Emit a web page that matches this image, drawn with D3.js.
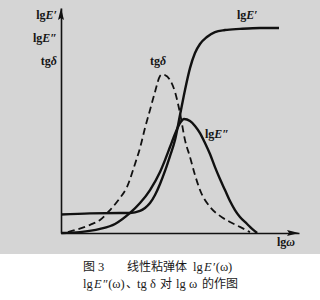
<!DOCTYPE html>
<html>
<head>
<meta charset="utf-8">
<script src="https://cdn.jsdelivr.net/npm/d3@7"></script>
<style>
  body { margin: 0; background: #fff; }
  svg { display: block; }
  .lab { font-family: "Liberation Serif", "DejaVu Serif", serif; font-size: 12px; font-weight: bold; fill: #151515; }
  .cap { font-family: "Noto Sans CJK SC", sans-serif; font-size: 12px; fill: #1a1a1a; }
  .capl { font-family: "Liberation Serif", serif; font-size: 12.5px; fill: #1a1a1a; }
</style>
</head>
<body>
<div id="chart"></div>
<script>
// curves in arbitrary units: x = lg omega (0..100), y = 0..100
var storageX = [0, 12.2, 24.8, 29.0, 33.2, 35.3, 37.4, 39.5, 41.6, 43.7, 45.8, 47.9, 50.0, 52.1, 54.2, 56.3, 58.4, 61.3, 64.7, 68.9, 75.2, 83.6, 91.6];
var storageY = [8.2, 8.7, 8.9, 8.9, 9.8, 11.1, 13.3, 16.9, 21.8, 27.6, 34.2, 41.3, 52.4, 63.6, 73.3, 80.0, 84.0, 87.1, 89.3, 90.2, 90.7, 91.1, 91.1];

var lossX = [0, 8.0, 16.4, 22.7, 29.0, 33.2, 37.4, 41.6, 43.7, 45.8, 47.9, 50.0, 51.7, 54.2, 56.3, 58.4, 60.5, 62.6, 64.7, 66.8, 68.9, 71.0, 73.1, 75.2, 78.2, 80.3, 82.4];
var lossY = [0, 0.4, 1.8, 4.0, 8.9, 13.3, 19.1, 27.1, 32.4, 38.2, 44.0, 48.9, 50.7, 49.8, 47.6, 44.4, 40.0, 35.1, 29.3, 24.0, 19.1, 14.2, 10.2, 7.1, 4.0, 1.8, 0];

var tanX = [2.9, 5.9, 12.2, 16.4, 20.6, 24.8, 27.7, 31.1, 33.2, 35.3, 37.4, 39.5, 41.6, 42.4, 43.7, 45.8, 47.9, 50.0, 52.1, 54.2, 56.3, 58.4, 62.6, 66.8, 71.0, 75.2, 79.4];
var tanY = [0.4, 1.3, 3.6, 5.8, 10.2, 15.6, 20.4, 30.7, 37.8, 46.7, 54.7, 62.7, 69.8, 70.4, 70.2, 68.0, 62.7, 53.3, 41.3, 33.8, 25.8, 19.1, 11.6, 7.6, 4.9, 2.7, 0.4];

var W = 320, H = 300;
var svg = d3.select("#chart").append("svg").attr("width", W).attr("height", H);

// grey paper area
svg.append("rect").attr("x", 0).attr("y", 0).attr("width", W).attr("height", 254).attr("fill", "#d5d5d5");

var x = d3.scaleLinear().domain([0, 100]).range([61, 299]);
var y = d3.scaleLinear().domain([0, 100]).range([233, 8]);

// axes (no ticks)
svg.append("g").attr("transform", "translate(0," + y(0) + ")")
  .call(d3.axisBottom(x).ticks(0).tickSizeOuter(0))
  .call(g => g.select(".domain").attr("stroke", "#111").attr("stroke-width", 1.6));
svg.append("g").attr("transform", "translate(" + x(0) + ",0)")
  .call(d3.axisLeft(y).ticks(0).tickSizeOuter(0))
  .call(g => g.select(".domain").attr("stroke", "#111").attr("stroke-width", 1.6));

// arrow heads
svg.append("path")
  .attr("d", "M" + x(100) + "," + y(0) + "l-12,-3l2,3l-2,3z")
  .attr("fill", "#111");
svg.append("path")
  .attr("d", "M" + x(0) + "," + y(100) + "l-3,12l3,-2l3,2z")
  .attr("fill", "#111");

function pts(xs, ys) { return xs.map((v, i) => [v, ys[i]]); }
var line = d3.line().x(d => x(d[0])).y(d => y(d[1])).curve(d3.curveMonotoneX);

svg.append("path").datum(pts(tanX, tanY)).attr("d", line)
  .attr("fill", "none").attr("stroke", "#111").attr("stroke-width", 1.8)
  .attr("stroke-dasharray", "7,4");
svg.append("path").datum(pts(lossX, lossY)).attr("d", line)
  .attr("fill", "none").attr("stroke", "#111").attr("stroke-width", 2.4);
svg.append("path").datum(pts(storageX, storageY)).attr("d", line)
  .attr("fill", "none").attr("stroke", "#111").attr("stroke-width", 2.4);

// labels with italic symbols
function label(xp, yp, parts, anchor) {
  var t = svg.append("text").attr("class", "lab").attr("x", xp).attr("y", yp)
    .attr("text-anchor", anchor || "start");
  parts.forEach(p => t.append("tspan").text(p[0]).attr("font-style", p[1] ? "italic" : null));
}
label(57, 19, [["lg"], ["E", 1], ["′"]], "end");
label(57, 42, [["lg"], ["E", 1], ["″"]], "end");
label(57, 65, [["tg"], ["δ", 1]], "end");
label(150, 65, [["tg"], ["δ", 1]]);
label(237, 19, [["lg"], ["E", 1], ["′"]]);
label(205, 138, [["lg"], ["E", 1], ["″"]]);
label(277, 246, [["lg"], ["ω", 1]]);

// caption
function cap(yp, parts) {
  parts.forEach(p => {
    svg.append("text").attr("class", p[2] ? "capl" : "cap").attr("x", p[0]).attr("y", yp)
      .attr("font-style", p[3] ? "italic" : null).text(p[1]);
  });
}
cap(271, [[83, "图"], [98, "3", 1], [127, "线性粘弹体"], [193, "lg", 1], [204, "E", 1, 1], [213, "′(ω)", 1]]);
cap(288, [[83, "lg", 1], [94, "E", 1, 1], [103, "″(ω)", 1], [126, "、"], [137, "tg", 1], [150, "δ", 1], [160, "对"], [176, "lg", 1], [189, "ω", 1], [202, "的作图"]]);
</script>
</body>
</html>
